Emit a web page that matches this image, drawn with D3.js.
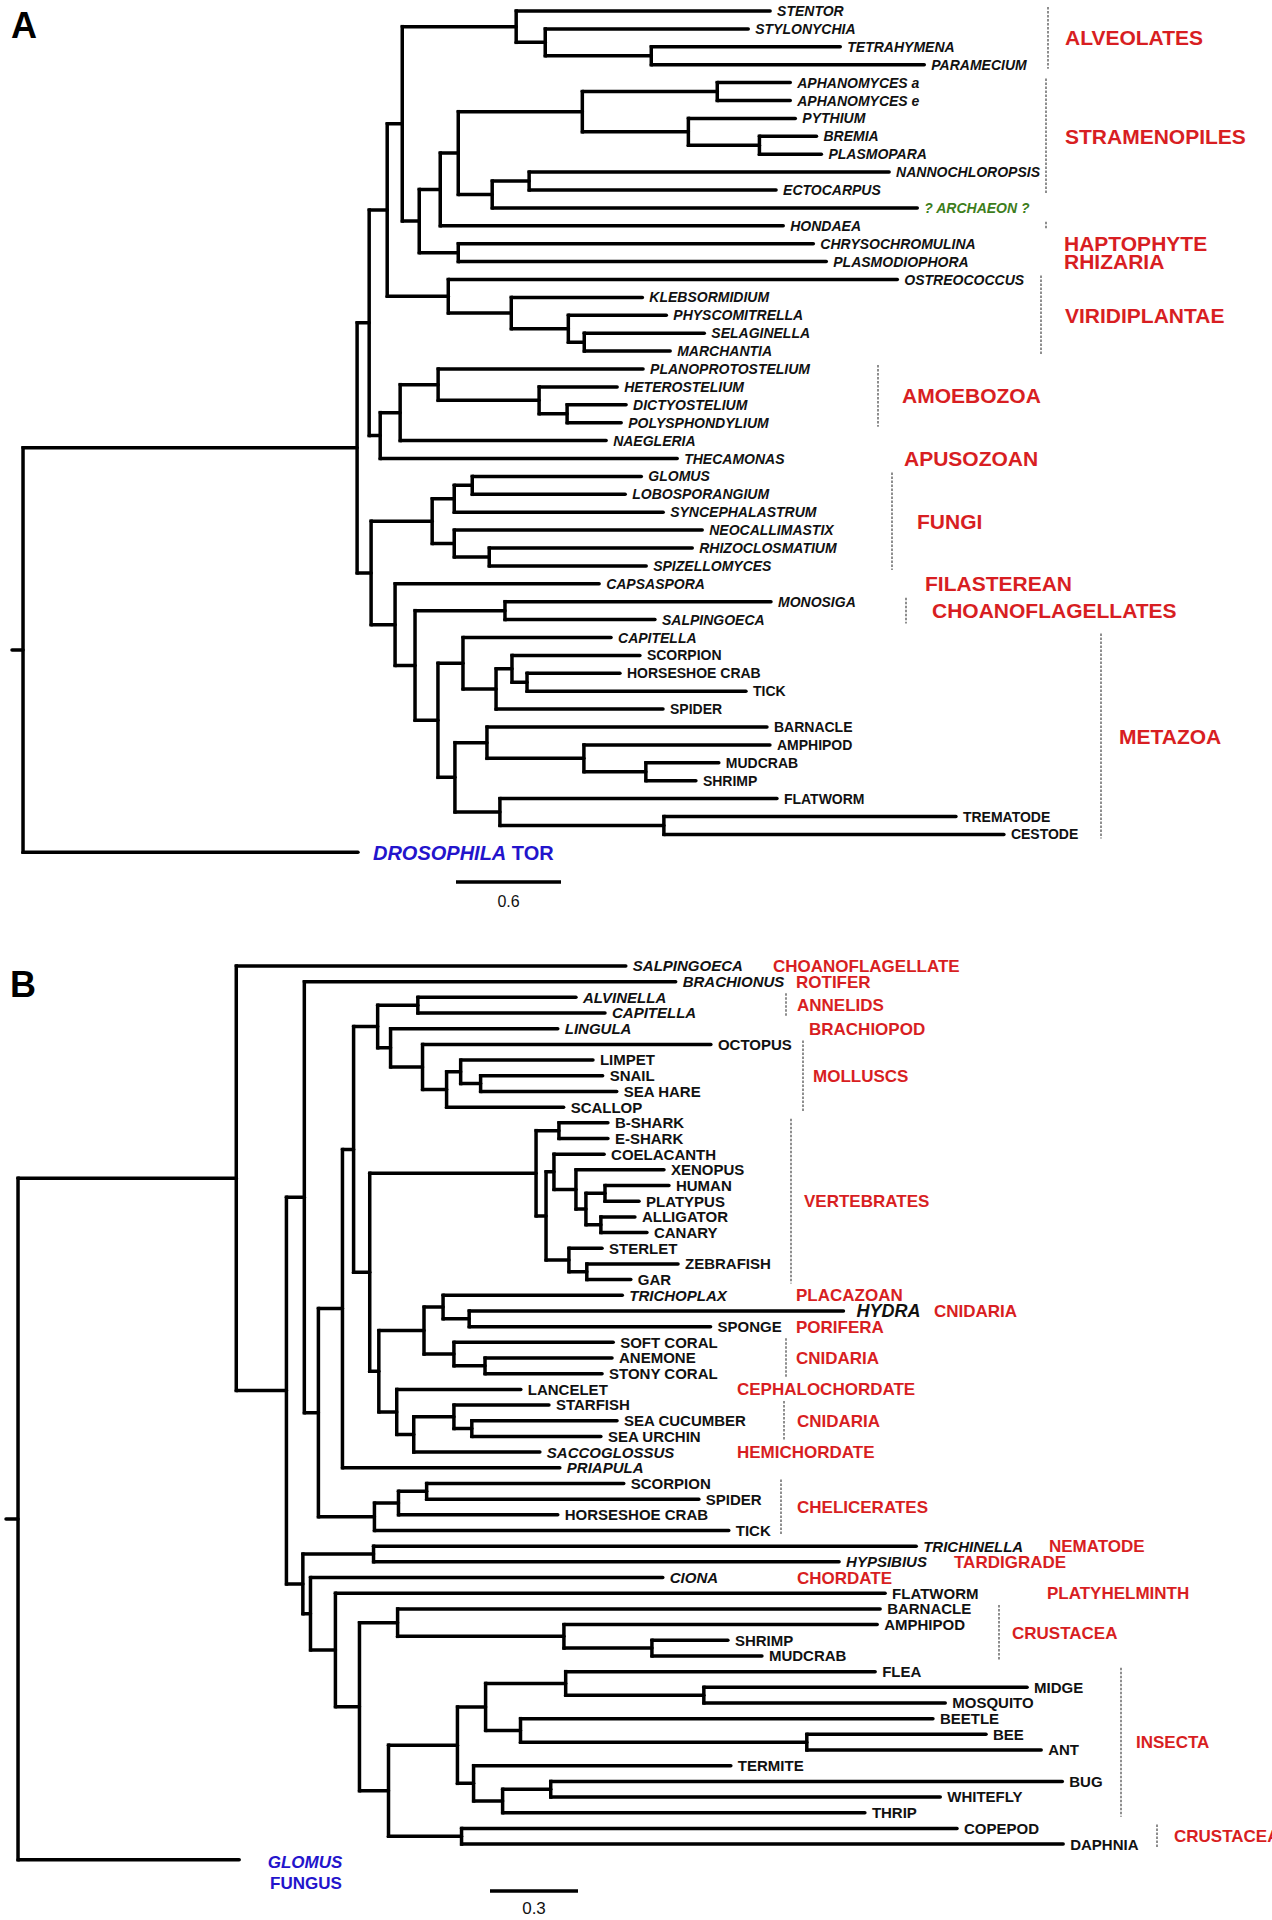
<!DOCTYPE html>
<html><head><meta charset="utf-8">
<script src="https://cdn.jsdelivr.net/npm/d3@7"></script>
<style>body{margin:0;background:#fff}svg{display:block;overflow:hidden}</style>
</head><body><svg id="c" width="1272" height="1920"></svg>
<script>
// ---------------- DATA : Panel A (branch lengths, substitutions/site) ----------------
const A_alveolates = "(STENTOR:1.451,(STYLONYCHIA:1.160,(TETRAHYMENA:1.080,PARAMECIUM:1.560):0.606):0.166):0.651";
const A_oomycetes = "((APHANOMYCES_a:0.417,APHANOMYCES_e:0.417):0.771,(PYTHIUM:0.611,(BREMIA:0.326,PLASMOPARA:0.354):0.406):0.606):0.709";
const A_heterokonts = "((NANNOCHLOROPSIS:2.057,ECTOCARPUS:1.411):0.211,?_ARCHAEON_?:2.429):0.194";
const A_hapto = "(CHRYSOCHROMULINA:2.029,PLASMODIOPHORA:2.103):0.223";
const A_plants = "(OSTREOCOCCUS:2.566,(KLEBSORMIDIUM:0.749,(PHYSCOMITRELLA:0.560,(SELAGINELLA:0.686,MARCHANTIA:0.491):0.091):0.326):0.360):0.349";
const A_amoebo = "(((PLANOPROTOSTELIUM:1.171,(HETEROSTELIUM:0.446,(DICTYOSTELIUM:0.337,POLYSPHONDYLIUM:0.309):0.160):0.577):0.217,NAEGLERIA:1.177):0.114,THECAMONAS:1.697):0.063";
const A_fungi = "(((GLOMUS:0.966,LOBOSPORANGIUM:0.874):0.103,SYNCEPHALASTRUM:1.194):0.126,(NEOCALLIMASTIX:1.417,(RHIZOCLOSMATIUM:1.160,SPIZELLOMYCES:0.897):0.200):0.126):0.349";
const A_metazoa = "((CAPITELLA:0.846,((SCORPION:0.731,(HORSESHOE_CRAB:0.531,TICK:1.251):0.086):0.091,SPIDER:0.954):0.189):0.143,((BARNACLE:1.600,(AMPHIPOD:1.063,(MUDCRAB:0.417,SHRIMP:0.286):0.354):0.554):0.183,(FLATWORM:1.583,(TREMATODE:1.669,CESTODE:1.943):0.937):0.257):0.097):0.131";
const A_holozoa = "(CAPSASPORA:1.166,((MONOSIGA:1.520,SALPINGOECA:0.857):0.514," + A_metazoa + "):0.114):0.137";
const A_sar = "(((" + A_oomycetes + "," + A_heterokonts + "):0.103,HONDAEA:1.960):0.120," + A_hapto + "):0.097";
const newickA = "(((((" + A_alveolates + "," + A_sar + "):0.086," + A_plants + "):0.103," + A_amoebo + "):0.069,(" + A_fungi + "," + A_holozoa + "):0.080):1.909,DROSOPHILA_TOR:1.914):0.063;";

// ---------------- DATA : Panel B ----------------
const B_annelids = "(ALVINELLA:0.539,CAPITELLA:0.638):0.137";
const B_molluscs = "(LINGULA:0.570,(OCTOPUS:0.983,((LIMPET:0.451,(SNAIL:0.416,SEA_HARE:0.464):0.068):0.048,SCALLOP:0.399):0.082):0.109):0.044";
const B_vertebrates = "((B-SHARK:0.167,E-SHARK:0.167):0.078,((COELACANTH:0.171,(XENOPUS:0.300,((HUMAN:0.218,PLATYPUS:0.116):0.065,(ALLIGATOR:0.116,CANARY:0.157):0.051):0.034):0.075):0.027,(STERLET:0.113,(ZEBRAFISH:0.311,GAR:0.150):0.061):0.078):0.034):0.567";
const B_basal = "(((TRICHOPLAX:0.611,(HYDRA:1.276,SPONGE:0.823):0.089):0.065,(SOFT_CORAL:0.543,(ANEMONE:0.433,STONY_CORAL:0.399):0.106):0.102):0.154,(LANCELET:0.423,((STARFISH:0.324,(SEA_CUCUMBER:0.495,SEA_URCHIN:0.440):0.061):0.137,SACCOGLOSSUS:0.430):0.058):0.061):0.031";
const B_chelicerates = "(((SCORPION:0.672,SPIDER:0.928):0.096,HORSESHOE_CRAB:0.543):0.082,TICK:1.208):0.191";
const B_pancrust = "((BARNACLE:1.645,(AMPHIPOD:1.068,(SHRIMP:0.259,MUDCRAB:0.375):0.300):0.567):0.130,((((FLEA:1.055,(MIDGE:1.102,MOSQUITO:0.823):0.471):0.273,(BEETLE:1.406,(BEE:0.611,ANT:0.799):0.976):0.119):0.096,(TERMITE:0.877,((BUG:1.744,WHITEFLY:1.328):0.164,THRIP:1.235):0.099):0.055):0.235,(COPEPOD:1.689,DAPHNIA:2.051):0.249):0.099):0.082";
const B_upper = "(BRACHIONUS:1.266,((((" + B_annelids + "," + B_molluscs + "):0.082,(" + B_vertebrates + "," + B_basal + "):0.055):0.038,PRIAPULA:0.741):0.082," + B_chelicerates + "):0.048):0.061";
const B_lower = "((TRICHINELLA:1.850,HYPSIBIUS:1.587):0.241,(CIONA:1.201,(FLATWORM:1.874," + B_pancrust + "):0.085):0.026):0.056";
const newickB = "((SALPINGOECA:1.328,(" + B_upper + "," + B_lower + "):0.171):0.744,GLOMUS_FUNGUS:0.754):0.041;";

// Label styling lists
const romanA = ["SCORPION","HORSESHOE CRAB","TICK","SPIDER","BARNACLE","AMPHIPOD","MUDCRAB","SHRIMP","FLATWORM","TREMATODE","CESTODE"];
const italicB = ["SALPINGOECA","BRACHIONUS","ALVINELLA","CAPITELLA","LINGULA","TRICHOPLAX","HYDRA","SACCOGLOSSUS","PRIAPULA","TRICHINELLA","HYPSIBIUS","CIONA"];

// Clade groups: [label, first leaf, last leaf, bracket?]
const groupsA = [
  ["ALVEOLATES","STENTOR","PARAMECIUM",true],
  ["STRAMENOPILES","APHANOMYCES a","ECTOCARPUS",true],
  ["","HONDAEA","HONDAEA",true],
  ["HAPTOPHYTE","CHRYSOCHROMULINA","CHRYSOCHROMULINA",false],
  ["RHIZARIA","PLASMODIOPHORA","PLASMODIOPHORA",false],
  ["VIRIDIPLANTAE","OSTREOCOCCUS","MARCHANTIA",true],
  ["AMOEBOZOA","PLANOPROTOSTELIUM","POLYSPHONDYLIUM",true],
  ["APUSOZOAN","THECAMONAS","THECAMONAS",false],
  ["FUNGI","GLOMUS","SPIZELLOMYCES",true],
  ["FILASTEREAN","CAPSASPORA","CAPSASPORA",false],
  ["CHOANOFLAGELLATES","MONOSIGA","SALPINGOECA",true],
  ["METAZOA","CAPITELLA","CESTODE",true]
];
const groupsB = [
  ["CHOANOFLAGELLATE","SALPINGOECA","SALPINGOECA",false],
  ["ROTIFER","BRACHIONUS","BRACHIONUS",false],
  ["ANNELIDS","ALVINELLA","CAPITELLA",true],
  ["BRACHIOPOD","LINGULA","LINGULA",false],
  ["MOLLUSCS","OCTOPUS","SCALLOP",true],
  ["VERTEBRATES","B-SHARK","GAR",true],
  ["PLACAZOAN","TRICHOPLAX","TRICHOPLAX",false],
  ["CNIDARIA","HYDRA","HYDRA",false],
  ["PORIFERA","SPONGE","SPONGE",false],
  ["CNIDARIA","SOFT CORAL","STONY CORAL",true],
  ["CEPHALOCHORDATE","LANCELET","LANCELET",false],
  ["CNIDARIA","STARFISH","SEA URCHIN",true],
  ["HEMICHORDATE","SACCOGLOSSUS","SACCOGLOSSUS",false],
  ["CHELICERATES","SCORPION","TICK",true],
  ["NEMATODE","TRICHINELLA","TRICHINELLA",false],
  ["TARDIGRADE","HYPSIBIUS","HYPSIBIUS",false],
  ["CHORDATE","CIONA","CIONA",false],
  ["PLATYHELMINTH","FLATWORM","FLATWORM",false],
  ["CRUSTACEA","BARNACLE","MUDCRAB",true],
  ["INSECTA","FLEA","THRIP",true],
  ["CRUSTACEA","COPEPOD","DAPHNIA",true]
];
const scaleBarA = 0.6, scaleBarB = 0.3;

// ---------------- LAYOUT ----------------
// [bracket x, label x] for each group
const groupPosA = [[1048,1065],[1046,1065],[1046,0],[0,1064],[0,1064],[1041,1065],[878,902],[0,904],[892,917],[0,925],[906,932],[1101,1119]];
const groupPosB = [[0,773],[0,796],[786,797],[0,809],[803,813],[791,804],[0,796],[0,934],[0,796],[786,796],[0,737],[784,797],[0,737],[781,797],[0,1049],[0,954],[0,797],[0,1047],[999,1012],[1121,1136],[1157,1174]];

const FONT = "'Liberation Sans', Arial, Helvetica, sans-serif";
const RED = "#d81e22", BLUE = "#2314cc", GREEN = "#3d7d1c";
const svg = d3.select("#c");

function parseNewick(s){
  let i=0;
  function node(){
    const n={};
    if(s[i]==='('){ i++; n.children=[];
      while(true){ n.children.push(node()); if(s[i]===','){ i++; continue; } break; }
      i++;
    }
    let name=''; while(i<s.length && !'(),:;'.includes(s[i])) name+=s[i++];
    n.name=name.replace(/_/g,' ');
    n.length=0;
    if(s[i]===':'){ i++; let num=''; while(i<s.length && !'(),;'.includes(s[i])) num+=s[i++]; n.length=+num; }
    return n;
  }
  return node();
}

function buildTree(nwk){
  const root=d3.hierarchy(parseNewick(nwk));
  root.eachBefore(d=>{ d.dist=(d.parent?d.parent.dist:0)+d.data.length; });
  const leaves=root.leaves(); leaves.forEach((l,k)=>l.idx=k);
  root.eachAfter(d=>{ if(d.children) d.idx=(d.children[0].idx+d.children[d.children.length-1].idx)/2; });
  return {root,leaves};
}

function drawTree(g, root, x, y){
  const nodes=root.descendants();
  g.append("g").selectAll("path").data(nodes).join("path")
    .attr("d", d=>`M${x(d.parent?d.parent.dist:0)},${y(d.idx)}H${x(d.dist)}`)
    .attr("stroke","#000").attr("stroke-width",3.5).attr("stroke-linecap","round").attr("fill","none");
  g.append("g").selectAll("path").data(nodes.filter(d=>d.children)).join("path")
    .attr("d", d=>`M${x(d.dist)},${y(d.children[0].idx)}V${y(d.children[d.children.length-1].idx)}`)
    .attr("stroke","#000").attr("stroke-width",3.5).attr("stroke-linecap","square").attr("fill","none");
}

function drawGroups(g, groups, pos, leaves, y, fs, pad){
  const byName={}; leaves.forEach(l=>byName[l.data.name]=l);
  groups.forEach((gr,k)=>{
    const y1=y(byName[gr[1]].idx), y2=y(byName[gr[2]].idx);
    const [bx,lx]=pos[k];
    if(gr[3]) g.append("line").attr("x1",bx).attr("x2",bx).attr("y1",y1-pad).attr("y2",y2+pad)
      .attr("stroke","#444").attr("stroke-width",1.2).attr("stroke-dasharray","2.5,1.5");
    if(gr[0]) g.append("text").attr("x",lx).attr("y",(y1+y2)/2).attr("dy","0.36em")
      .attr("font-family",FONT).attr("font-weight","bold").attr("font-size",fs).attr("fill",RED).text(gr[0]);
  });
}

// ---------------- PANEL A ----------------
const TA=buildTree(newickA);
const xA=d3.scaleLinear().domain([0,scaleBarA]).range([12,117]);
const yA=d3.scaleLinear().domain([0,TA.leaves.length-1]).range([11,852.3]);
const gA=svg.append("g");
drawTree(gA,TA.root,xA,yA);
TA.leaves.forEach(l=>{
  const nm=l.data.name, tx=xA(l.dist), ty=yA(l.idx);
  if(nm==="DROSOPHILA TOR"){
    const t=gA.append("text").attr("x",tx+15).attr("y",ty).attr("dy","0.36em").attr("font-family",FONT)
      .attr("font-weight","bold").attr("font-size",20).attr("fill",BLUE);
    t.append("tspan").attr("font-style","italic").text("DROSOPHILA");
    t.append("tspan").text(" TOR");
    return;
  }
  gA.append("text").attr("x",tx+7).attr("y",ty).attr("dy","0.36em").attr("font-family",FONT)
    .attr("font-weight","bold").attr("font-size",14)
    .attr("font-style",romanA.includes(nm)?"normal":"italic")
    .attr("fill",nm.includes("ARCHAEON")?GREEN:"#111").text(nm);
});
drawGroups(gA,groupsA,groupPosA,TA.leaves,yA,21,4);
gA.append("text").attr("x",11).attr("y",38).attr("font-family",FONT).attr("font-weight","bold").attr("font-size",36).text("A");
// scale bar A
gA.append("line").attr("x1",456).attr("x2",456+xA(scaleBarA)-xA(0)).attr("y1",882).attr("y2",882)
  .attr("stroke","#000").attr("stroke-width",3.5);
gA.append("text").attr("x",456+(xA(scaleBarA)-xA(0))/2).attr("y",901).attr("dy","0.36em").attr("text-anchor","middle")
  .attr("font-family",FONT).attr("font-size",16).attr("fill","#111").text(String(scaleBarA));

// ---------------- PANEL B ----------------
const TB=buildTree(newickB);
const xB=d3.scaleLinear().domain([0,scaleBarB]).range([6,94]);
const yB=d3.scaleLinear().domain([0,TB.leaves.length-1]).range([966,1859.8]);
const gB=svg.append("g");
drawTree(gB,TB.root,xB,yB);
TB.leaves.forEach(l=>{
  const nm=l.data.name, tx=xB(l.dist), ty=yB(l.idx);
  if(nm==="GLOMUS FUNGUS"){
    gB.append("text").attr("x",305).attr("y",ty+2).attr("dy","0.36em").attr("text-anchor","middle").attr("font-family",FONT)
      .attr("font-weight","bold").attr("font-style","italic").attr("font-size",17).attr("fill",BLUE).text("GLOMUS");
    gB.append("text").attr("x",306).attr("y",ty+23).attr("dy","0.36em").attr("text-anchor","middle").attr("font-family",FONT)
      .attr("font-weight","bold").attr("font-size",17).attr("fill",BLUE).text("FUNGUS");
    return;
  }
  const big = nm==="HYDRA";
  gB.append("text").attr("x",tx+(big?13:7)).attr("y",ty).attr("dy","0.36em").attr("font-family",FONT)
    .attr("font-weight","bold").attr("font-size",big?18:15)
    .attr("font-style",italicB.includes(nm)?"italic":"normal")
    .attr("fill","#111").text(nm);
});
drawGroups(gB,groupsB,groupPosB,TB.leaves,yB,17,4);
gB.append("text").attr("x",10).attr("y",997).attr("font-family",FONT).attr("font-weight","bold").attr("font-size",36).text("B");
gB.append("line").attr("x1",490).attr("x2",490+xB(scaleBarB)-xB(0)).attr("y1",1891).attr("y2",1891)
  .attr("stroke","#000").attr("stroke-width",3.5);
gB.append("text").attr("x",490+(xB(scaleBarB)-xB(0))/2).attr("y",1908).attr("dy","0.36em").attr("text-anchor","middle")
  .attr("font-family",FONT).attr("font-size",17).attr("fill","#111").text(String(scaleBarB));
</script></body></html>
